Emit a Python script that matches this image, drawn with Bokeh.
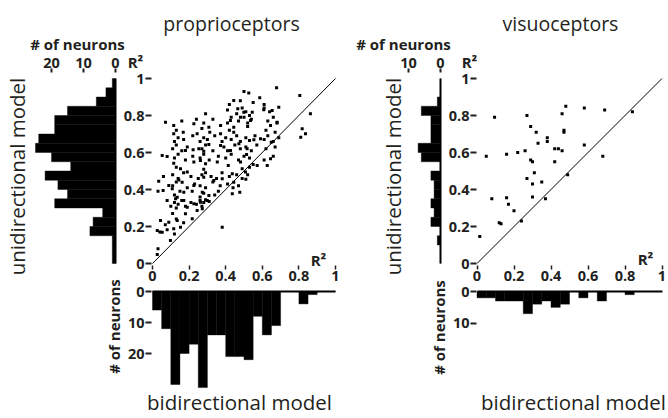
import math
from bokeh.plotting import figure
from bokeh.models import (Range1d, LinearAxis, Label, FixedTicker,
                          CustomJSTickFormatter, Grid)
from bokeh.embed import file_html
from bokeh.resources import INLINE

W, H = 668, 418
INK = "#231f20"
FONT = "Open Sans"

# ------------------------------------------------------------------ data
bin_lo = [0.0, 0.05, 0.1, 0.15, 0.2, 0.25, 0.3, 0.35, 0.4, 0.45,
          0.5, 0.55, 0.6, 0.65, 0.7, 0.75, 0.8, 0.85, 0.9, 0.95]
bin_width = 0.05
r2_ticks = [0, 0.2, 0.4, 0.6, 0.8, 1]
prop_count_ticks = [0, 10, 20]
vis_count_ticks = [0, 10]
identity = [0, 1]

# histogram counts per R^2 bin (bin_lo order)
prop_uni_counts = [1, 1, 1, 8, 7, 4, 19, 15, 18, 22, 14, 20, 25, 24, 19, 19, 15, 6, 3, 1]
prop_bi_counts = [6, 12, 30, 20, 17, 31, 14, 14, 21, 21, 22, 8, 14, 11, 0, 0, 4, 1, 0, 0]
vis_uni_counts = [0, 0, 1, 0, 3, 2, 3, 2, 2, 3, 0, 6, 7, 3, 3, 3, 6, 1, 0, 0]
vis_bi_counts = [2, 2, 3, 3, 3, 7, 4, 3, 5, 4, 0, 2, 0, 3, 0, 0, 1, 0, 0, 0]

# scatter: bidirectional R^2 (x) vs unidirectional R^2 (y), proprioceptors
prop_bi = [0.526, 0.678, 0.586, 0.444, 0.466, 0.499, 0.545, 0.608, 0.654, 0.690,
           0.805, 0.863, 0.071, 0.116, 0.226, 0.308, 0.372, 0.426, 0.444, 0.481,
           0.536, 0.645, 0.681, 0.818, 0.836, 0.810,
           0.116, 0.168, 0.244, 0.313, 0.372, 0.444, 0.053, 0.080, 0.180, 0.222,
           0.253, 0.280, 0.308, 0.372, 0.426, 0.472, 0.517, 0.514, 0.554, 0.590,
           0.649, 0.116, 0.153, 0.226, 0.262, 0.290, 0.354, 0.414, 0.481, 0.572,
           0.627, 0.645, 0.034, 0.089, 0.144, 0.162, 0.190, 0.226, 0.280, 0.335,
           0.381, 0.436, 0.490, 0.508, 0.444, 0.058, 0.108, 0.135, 0.171, 0.217,
           0.272, 0.308, 0.436, 0.477, 0.080, 0.126, 0.171, 0.190, 0.226, 0.262,
           0.299, 0.244, 0.272, 0.180, 0.044, 0.089, 0.135, 0.217, 0.026, 0.053,
           0.080, 0.116, 0.153, 0.381, 0.098, 0.026,
           0.03, 0.04, 0.12, 0.07, 0.13, 0.17, 0.11,
           0.10, 0.12, 0.14, 0.16, 0.18, 0.21, 0.24, 0.26, 0.27, 0.28, 0.29, 0.13, 0.31,
           0.12, 0.15, 0.26, 0.28, 0.34, 0.36,
           0.11, 0.13, 0.19, 0.23, 0.26, 0.29, 0.33, 0.37, 0.41, 0.44, 0.47,
           0.06, 0.11, 0.14, 0.17, 0.21, 0.25, 0.27, 0.29, 0.32, 0.35, 0.38, 0.42,
           0.46, 0.49, 0.52, 0.51,
           0.13, 0.28, 0.53, 0.55,
           0.03, 0.12, 0.14, 0.18, 0.22, 0.26, 0.28, 0.31, 0.36, 0.40, 0.43, 0.47,
           0.50, 0.53, 0.61, 0.66,
           0.11, 0.13, 0.16, 0.19, 0.27, 0.29, 0.33, 0.39, 0.41, 0.45, 0.48, 0.51,
           0.54, 0.57, 0.62, 0.67,
           0.12, 0.14, 0.17, 0.22, 0.26, 0.28, 0.30, 0.34, 0.38, 0.40, 0.43, 0.46,
           0.48, 0.51, 0.53, 0.56, 0.61, 0.63, 0.66, 0.69,
           0.13, 0.27, 0.42, 0.52, 0.62, 0.67,
           0.16, 0.24, 0.28, 0.33, 0.41, 0.43, 0.47, 0.50, 0.52, 0.54, 0.63, 0.66, 0.68,
           0.29, 0.41, 0.46, 0.49, 0.51, 0.53, 0.61, 0.64,
           0.42, 0.48, 0.55, 0.61,
           0.50]
prop_uni = [0.921, 0.950, 0.896, 0.881, 0.836, 0.818, 0.818, 0.831, 0.827, 0.845,
            0.908, 0.809, 0.764, 0.746, 0.755, 0.737, 0.746, 0.773, 0.737, 0.791,
            0.773, 0.746, 0.764, 0.728, 0.701, 0.683,
            0.701, 0.710, 0.701, 0.710, 0.701, 0.710, 0.584, 0.578, 0.611, 0.615,
            0.620, 0.607, 0.643, 0.638, 0.611, 0.647, 0.620, 0.589, 0.669, 0.674,
            0.656, 0.542, 0.512, 0.548, 0.557, 0.539, 0.548, 0.530, 0.548, 0.530,
            0.530, 0.566, 0.445, 0.422, 0.452, 0.439, 0.494, 0.422, 0.466, 0.449,
            0.458, 0.485, 0.512, 0.494, 0.439, 0.395, 0.404, 0.358, 0.385, 0.391,
            0.385, 0.368, 0.377, 0.385, 0.341, 0.350, 0.341, 0.304, 0.323, 0.331,
            0.341, 0.286, 0.296, 0.269, 0.232, 0.223, 0.232, 0.242, 0.178, 0.169,
            0.182, 0.188, 0.196, 0.196, 0.124, 0.049,
            0.08, 0.17, 0.16, 0.21, 0.24, 0.22, 0.27,
            0.31, 0.33, 0.32, 0.34, 0.31, 0.33, 0.32, 0.34, 0.31, 0.33, 0.345, 0.30, 0.335,
            0.37, 0.39, 0.36, 0.38, 0.37, 0.39,
            0.42, 0.44, 0.41, 0.43, 0.42, 0.41, 0.44, 0.42, 0.43, 0.41, 0.42,
            0.47, 0.48, 0.46, 0.49, 0.47, 0.46, 0.48, 0.49, 0.47, 0.46, 0.49, 0.47,
            0.48, 0.46, 0.48, 0.455,
            0.52, 0.51, 0.52, 0.535,
            0.39, 0.57, 0.59, 0.56, 0.58, 0.57, 0.59, 0.56, 0.58, 0.57, 0.59, 0.56,
            0.58, 0.57, 0.56, 0.58,
            0.62, 0.64, 0.61, 0.63, 0.62, 0.64, 0.61, 0.63, 0.61, 0.64, 0.62, 0.63,
            0.61, 0.64, 0.62, 0.63,
            0.66, 0.68, 0.67, 0.69, 0.66, 0.68, 0.67, 0.69, 0.66, 0.68, 0.67, 0.69,
            0.66, 0.68, 0.665, 0.69, 0.67, 0.69, 0.66, 0.68,
            0.72, 0.73, 0.72, 0.74, 0.72, 0.71,
            0.77, 0.78, 0.76, 0.78, 0.76, 0.79, 0.77, 0.79, 0.76, 0.78, 0.77, 0.79, 0.76,
            0.81, 0.83, 0.81, 0.84, 0.82, 0.80, 0.84, 0.82,
            0.86, 0.88, 0.87, 0.86,
            0.93]

# visuoceptors
vis_bi = [0.095, 0.27, 0.46, 0.48, 0.58, 0.69, 0.84, 0.29, 0.47, 0.38,
          0.32, 0.47, 0.33, 0.38, 0.42, 0.44, 0.46, 0.58, 0.05, 0.16,
          0.22, 0.26, 0.29, 0.30, 0.42, 0.68, 0.31, 0.49, 0.27, 0.35,
          0.30, 0.30, 0.37, 0.08, 0.16, 0.17, 0.20, 0.12, 0.13, 0.24, 0.015]
vis_uni = [0.79, 0.80, 0.81, 0.85, 0.84, 0.83, 0.82, 0.74, 0.72, 0.68,
           0.71, 0.71, 0.65, 0.66, 0.62, 0.62, 0.61, 0.64, 0.58, 0.59,
           0.60, 0.61, 0.56, 0.55, 0.55, 0.58, 0.49, 0.48, 0.46, 0.44,
           0.43, 0.36, 0.35, 0.35, 0.355, 0.32, 0.285, 0.22, 0.215, 0.23, 0.146]

# ------------------------------------------------------------------ layout helpers
def xr(v0, px0, k):
    """range so that screen x = px0 + k*(v - v0)"""
    return Range1d(start=v0 - px0 / k, end=v0 + (W - px0) / k)


def yr(v0, py0, k):
    """range so that screen y (from top) = py0 - k*(v - v0)"""
    return Range1d(start=v0 - (H - py0) / k, end=v0 + py0 / k)


p = figure(width=W, height=H, output_backend="svg", toolbar_location=None,
           x_axis_location=None, y_axis_location=None, min_border=0,
           x_range=Range1d(0, W), y_range=Range1d(H, 0),
           outline_line_color=None, background_fill_color="white",
           border_fill_color="white")
p.center = [r for r in p.center if not isinstance(r, Grid)]

p.extra_x_ranges = {
    "sxL": xr(0, 152, 183.0),
    "hxL": xr(0, 115, -3.2),
    "sxR": xr(0, 476.5, 185.0),
    "hxR": xr(0, 440, -3.2),
}
p.extra_y_ranges = {
    "sy": yr(0, 263, 185.0),
    "hyL": yr(0, 291, -3.1),
    "hyR": yr(0, 291, -3.17),
}

fmt = CustomJSTickFormatter(code="return tick.toString()")


def style(ax, size="14.5px"):
    ax.axis_line_color = None
    ax.major_tick_in = 0
    ax.major_tick_out = 5
    ax.major_tick_line_width = 2
    ax.major_tick_line_color = INK
    ax.minor_tick_line_color = None
    ax.major_label_text_font = FONT
    ax.major_label_text_font_style = "bold"
    ax.major_label_text_font_size = size
    ax.major_label_text_color = INK
    ax.major_label_standoff = 1
    ax.formatter = fmt
    return ax


def baseline(side, **kw):
    ax = LinearAxis(fixed_location=0, bounds=(0, 1), ticker=FixedTicker(ticks=[]),
                    major_label_text_font_size="0px", **kw)
    ax.axis_line_color = "black"
    ax.axis_line_width = 2
    ax.major_tick_line_color = None
    ax.minor_tick_line_color = None
    p.add_layout(ax, side)


def label(x, y, text, size="14px", bold=False, angle=0.0):
    p.add_layout(Label(x=x, y=y, text=text, text_align="center",
                       text_baseline="middle", text_font=FONT,
                       text_font_size=size, text_color=INK,
                       text_font_style="bold" if bold else "normal",
                       angle=angle))


def panel(sx, hx, hy, bi, uni, uni_counts, bi_counts, count_ticks,
          hist_axis_y, scat_axis_x, xaxis_y):
    centers = [b + bin_width / 2 for b in bin_lo]
    p.hbar(y=centers, height=bin_width, left=0, right=uni_counts,
           x_range_name=hx, y_range_name="sy", fill_color="black",
           line_color="black", line_width=0.4)
    p.vbar(x=centers, width=bin_width, bottom=0, top=bi_counts,
           x_range_name=sx, y_range_name=hy, fill_color="black",
           line_color="black", line_width=0.4)
    baseline("left", x_range_name=hx, y_range_name="sy")
    baseline("below", x_range_name=sx, y_range_name=hy)
    p.line(identity, identity, x_range_name=sx, y_range_name="sy",
           line_color="black", line_width=1)
    p.scatter(bi, uni, marker="square", size=3, fill_color="black",
              line_color=None, x_range_name=sx, y_range_name="sy")

    # count axis on top of the left histogram
    a = style(LinearAxis(x_range_name=hx, fixed_location=hist_axis_y,
                         ticker=FixedTicker(ticks=count_ticks)))
    a.major_tick_out = 4
    p.add_layout(a, "above")
    # R^2 axis of the scatter (vertical)
    a = style(LinearAxis(y_range_name="sy", fixed_location=scat_axis_x,
                         ticker=FixedTicker(ticks=r2_ticks)))
    a.major_tick_line_width = 2
    a.major_tick_out = 6
    p.add_layout(a, "left")
    # R^2 axis of the scatter (horizontal)
    a = style(LinearAxis(x_range_name=sx, fixed_location=xaxis_y,
                         ticker=FixedTicker(ticks=r2_ticks)))
    a.major_tick_out = 4
    a.major_tick_line_width = 1.5
    p.add_layout(a, "below")
    # count axis of the bottom histogram
    a = style(LinearAxis(y_range_name=hy, fixed_location=scat_axis_x,
                         ticker=FixedTicker(ticks=count_ticks)))
    a.major_tick_line_width = 2
    a.major_tick_out = 6
    p.add_layout(a, "left")


panel("sxL", "hxL", "hyL", prop_bi, prop_uni, prop_uni_counts, prop_bi_counts,
      prop_count_ticks, 72, 151, 265)
panel("sxR", "hxR", "hyR", vis_bi, vis_uni, vis_uni_counts, vis_bi_counts,
      vis_count_ticks, 72, 476, 265)

# texts
label(231, 23, "proprioceptors", size="19.5px")
label(560, 23, "visuoceptors", size="19.5px")
label(77, 43, "# of neurons", size="15px", bold=True)
label(403, 43, "# of neurons", size="15px", bold=True)
label(135, 61, "R²", size="15px", bold=True)
label(469, 61, "R²", size="15px", bold=True)
label(318, 259, "R²", size="15px", bold=True)
label(645, 258, "R²", size="15px", bold=True)
label(113, 326, "# of neurons", size="15px", bold=True, angle=math.pi / 2)
label(438, 327, "# of neurons", size="15px", bold=True, angle=math.pi / 2)
label(16, 176, "unidirectional model", size="20.5px", angle=math.pi / 2)
label(392, 176, "unidirectional model", size="20.5px", angle=math.pi / 2)
label(239, 401, "bidirectional model", size="20.5px")
label(573, 401, "bidirectional model", size="20.5px")

open("out.html", "w").write(file_html(p, INLINE))
